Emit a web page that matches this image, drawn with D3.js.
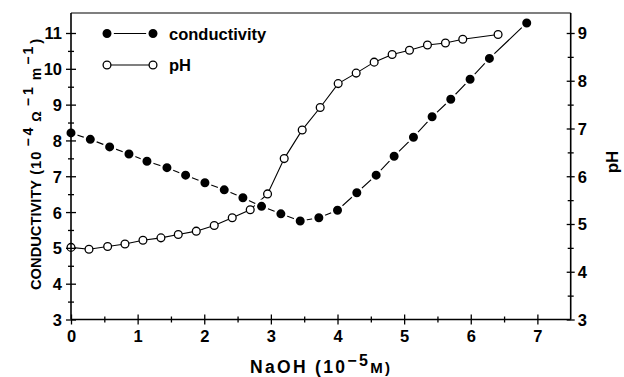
<!DOCTYPE html>
<html>
<head>
<meta charset="utf-8">
<script src="https://cdn.jsdelivr.net/npm/d3@7"></script>
<style>
  html, body { margin: 0; padding: 0; background: #fff; }
  svg { display: block; font-family: "Liberation Sans", Arial, sans-serif; font-weight: bold; }
</style>
</head>
<body>
<svg id="chart" width="624" height="377"></svg>
<script>
// NaOH added (10^-5 M) and measured conductivity (10^-4 Ω^-1 m^-1)
const condX = [0, 0.29, 0.58, 0.87, 1.14, 1.44, 1.72, 2.01, 2.30, 2.58, 2.86, 3.15,
               3.44, 3.72, 4.00, 4.29, 4.58, 4.85, 5.14, 5.42, 5.70, 5.99, 6.28, 6.84];
const condY = [8.21, 8.03, 7.82, 7.62, 7.42, 7.24, 7.03, 6.82, 6.62, 6.40, 6.16, 5.95,
               5.75, 5.84, 6.05, 6.54, 7.03, 7.56, 8.09, 8.66, 9.15, 9.71, 10.29, 11.28];

// NaOH added (10^-5 M) and measured pH
const phX = [0, 0.27, 0.55, 0.81, 1.08, 1.35, 1.61, 1.88, 2.15, 2.42, 2.69, 2.95,
             3.20, 3.47, 3.74, 4.01, 4.28, 4.55, 4.82, 5.08, 5.35, 5.62, 5.88, 6.41];
const phY = [4.51, 4.47, 4.53, 4.58, 4.66, 4.71, 4.78, 4.85, 4.97, 5.13, 5.30, 5.63,
             6.37, 6.97, 7.44, 7.94, 8.16, 8.39, 8.55, 8.64, 8.75, 8.79, 8.87, 8.97];

// Tick values
const xTicks = [0, 1, 2, 3, 4, 5, 6, 7];
const xMinor = [0.5, 1.5, 2.5, 3.5, 4.5, 5.5, 6.5];
const condTicks = [3, 4, 5, 6, 7, 8, 9, 10, 11];
const condMinor = [3.5, 4.5, 5.5, 6.5, 7.5, 8.5, 9.5, 10.5];
const phTicks = [3, 4, 5, 6, 7, 8, 9];
const phMinor = [3.5, 4.5, 5.5, 6.5, 7.5, 8.5];

const seriesNames = ["conductivity", "pH"];

const svg = d3.select("#chart");
const plotL = 71, plotR = 570.7, plotT = 13, plotB = 319.5;

const x = d3.scaleLinear().domain([0, 7.5]).range([plotL, plotR]);
const yC = d3.scaleLinear().domain([3, 11]).range([plotB, 33]);
const yP = d3.scaleLinear().domain([3, 9]).range([plotB, 33]);

const cond = condX.map((v, i) => ({ x: v, y: condY[i] }));
const ph = phX.map((v, i) => ({ x: v, y: phY[i] }));

// marker styles: filled dots carry a white halo so the joining line breaks at each dot
const dotStyle = { r: 5.7, fill: "#000", stroke: "#fff", sw: 2.4 };
const ringStyle = { r: 3.9, fill: "#fff", stroke: "#000", sw: 1.3 };

// pH: thin solid line with open circles
svg.append("path")
  .datum(ph)
  .attr("fill", "none")
  .attr("stroke", "#000")
  .attr("stroke-width", 1.1)
  .attr("d", d3.line().x(d => x(d.x)).y(d => yP(d.y)));

// conductivity: joining line
svg.append("path")
  .datum(cond)
  .attr("fill", "none")
  .attr("stroke", "#000")
  .attr("stroke-width", 1.1)
  .attr("d", d3.line().x(d => x(d.x)).y(d => yC(d.y)));

svg.append("g").selectAll("circle")
  .data(cond).join("circle")
  .attr("cx", d => x(d.x)).attr("cy", d => yC(d.y))
  .attr("r", dotStyle.r)
  .attr("fill", dotStyle.fill)
  .attr("stroke", dotStyle.stroke)
  .attr("stroke-width", dotStyle.sw);

svg.append("g").selectAll("circle")
  .data(ph).join("circle")
  .attr("cx", d => x(d.x)).attr("cy", d => yP(d.y))
  .attr("r", ringStyle.r)
  .attr("fill", ringStyle.fill)
  .attr("stroke", ringStyle.stroke)
  .attr("stroke-width", ringStyle.sw);

// Axes with ticks crossing the axis line
function crossTicks(g, len, vertical) {
  g.selectAll(".tick line")
    .attr(vertical ? "x1" : "y1", -len)
    .attr(vertical ? "x2" : "y2", len)
    .attr("stroke-width", 1.3);
}

const tickFont = 16.5;

// bottom axis
const gx = svg.append("g").attr("transform", `translate(0,${plotB})`)
  .call(d3.axisBottom(x).tickValues(xTicks).tickFormat(d3.format("d")).tickSize(5));
crossTicks(gx, 5, false);
gx.selectAll(".tick text").attr("y", 22.5).attr("dy", 0)
  .attr("font-size", tickFont).attr("fill", "#000");
const gxm = svg.append("g").attr("transform", `translate(0,${plotB})`)
  .call(d3.axisBottom(x).tickValues(xMinor).tickFormat("").tickSize(3));
crossTicks(gxm, 3, false);

// left axis (conductivity)
const gl = svg.append("g").attr("transform", `translate(${plotL},0)`)
  .call(d3.axisLeft(yC).tickValues(condTicks).tickFormat(d3.format("d")).tickSize(5));
crossTicks(gl, 5, true);
gl.selectAll(".tick text").attr("x", -9).attr("dy", "0.36em")
  .attr("font-size", tickFont).attr("fill", "#000");
const glm = svg.append("g").attr("transform", `translate(${plotL},0)`)
  .call(d3.axisLeft(yC).tickValues(condMinor).tickFormat("").tickSize(3));
crossTicks(glm, 3, true);

// right axis (pH)
const gr = svg.append("g").attr("transform", `translate(${plotR},0)`)
  .call(d3.axisRight(yP).tickValues(phTicks).tickFormat(d3.format("d")).tickSize(4));
crossTicks(gr, 4, true);
gr.selectAll(".tick text").attr("x", 7).attr("dy", "0.36em")
  .attr("font-size", tickFont).attr("fill", "#000");
const grm = svg.append("g").attr("transform", `translate(${plotR},0)`)
  .call(d3.axisRight(yP).tickValues(phMinor).tickFormat("").tickSize(3));
crossTicks(grm, 3, true);

// d3 axes set their own font family on the group; use the page font instead
svg.selectAll(".tick").select(function () { return this.parentNode; })
  .attr("font-family", null).attr("font-size", null);

// axis lines spanning the full frame, plus the top edge
[gx, gl, gr, gxm, glm, grm].forEach(g => g.select(".domain").remove());
svg.append("line").attr("x1", plotL).attr("x2", plotR).attr("y1", plotB).attr("y2", plotB)
  .attr("stroke", "#000").attr("stroke-width", 1.6);
svg.append("line").attr("x1", plotL).attr("x2", plotL).attr("y1", plotT).attr("y2", plotB)
  .attr("stroke", "#000").attr("stroke-width", 1.6);
svg.append("line").attr("x1", plotR).attr("x2", plotR).attr("y1", plotT).attr("y2", plotB)
  .attr("stroke", "#000").attr("stroke-width", 1.6);
svg.append("line").attr("x1", plotL).attr("x2", plotR).attr("y1", plotT).attr("y2", plotT)
  .attr("stroke", "#000").attr("stroke-width", 1.1);

// axis titles
const xt = svg.append("text").attr("x", 320).attr("y", 373)
  .attr("text-anchor", "middle").attr("font-size", 17.5)
  .attr("textLength", 140).attr("lengthAdjust", "spacing");
xt.append("tspan").text("NaOH (10");
xt.append("tspan").attr("dy", -7).attr("font-size", 16).text("\u22125");
xt.append("tspan").attr("dy", 7).attr("font-size", 15).text("M)");

// conductivity title, read bottom to top, with raised exponents
const yt = svg.append("text")
  .attr("transform", "translate(41,290) rotate(-90)")
  .attr("text-anchor", "start").attr("font-size", 14.7);
const ytParts = [
  { t: "CONDUCTIVITY", dx: 0, dy: 0, fs: 14.7, ls: 0 },
  { t: "(10", dx: 5, dy: 0, fs: 14.7, ls: 1 },
  { t: "\u22124", dx: 4, dy: -8, fs: 14, ls: 3 },
  { t: "\u03A9", dx: 3, dy: 8, fs: 13, ls: 0 },
  { t: "\u22121", dx: 5, dy: -8, fs: 14, ls: 3 },
  { t: "m", dx: 4, dy: 8, fs: 14, ls: 0 },
  { t: "\u22121", dx: 3, dy: -8, fs: 14, ls: 2 },
  { t: ")", dx: 1, dy: 8, fs: 14.7, ls: 0 }
];
ytParts.forEach(p => {
  yt.append("tspan")
    .attr("dx", p.dx).attr("dy", p.dy)
    .attr("font-size", p.fs)
    .attr("letter-spacing", p.ls)
    .text(p.t);
});

svg.append("text")
  .attr("transform", "translate(618,162) rotate(-90)")
  .attr("text-anchor", "middle").attr("font-size", 17).text("pH");

// legend
const legend = svg.append("g");
const lx1 = 107, lx2 = 153;
const legendStyles = [dotStyle, ringStyle];
[33.5, 65].forEach((ly, i) => {
  legend.append("line").attr("x1", lx1).attr("x2", lx2).attr("y1", ly).attr("y2", ly)
    .attr("stroke", "#000").attr("stroke-width", 1.1);
  const s = legendStyles[i];
  [lx1, lx2].forEach(cx => {
    legend.append("circle").attr("cx", cx).attr("cy", ly)
      .attr("r", s.r).attr("fill", s.fill)
      .attr("stroke", s.stroke).attr("stroke-width", s.sw);
  });
  legend.append("text").attr("x", 169).attr("y", ly + 6)
    .attr("font-size", 16.5).text(seriesNames[i]);
});
</script>
</body>
</html>
